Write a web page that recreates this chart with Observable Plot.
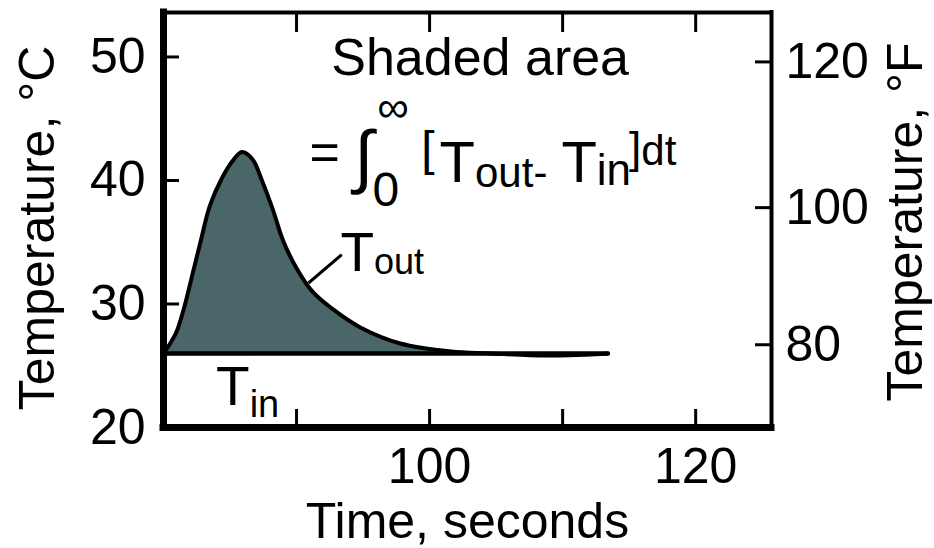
<!DOCTYPE html>
<html>
<head>
<meta charset="utf-8">
<script src="https://cdn.jsdelivr.net/npm/d3@7"></script>
<script src="https://cdn.jsdelivr.net/npm/@observablehq/plot@0.6"></script>
<style>
  html, body { margin: 0; padding: 0; background: white; }
  #chart svg { display: block; overflow: visible; }
</style>
</head>
<body>
<div id="chart"></div>
<script>
// ---- data ----
const time = [80, 80.5, 81, 81.6, 82.2, 82.8, 83.5, 84.4, 85.2, 85.9, 86.7, 87.4, 88.2, 89.0, 90.0, 91.2, 92.7, 94.8, 97.8, 101.6, 104.6, 107.5, 110.5, 113.4];
const tout = [26.0, 26.8, 27.8, 29.9, 32.5, 35.1, 38.0, 40.2, 41.6, 42.3, 41.7, 40.0, 37.7, 35.1, 32.9, 31.0, 29.6, 28.1, 26.8, 26.15, 26.0, 25.85, 25.85, 26.0];
const tinValue = 26;
const xDomain = [80, 125.7];
const yDomain = [20, 53.6];
const xTickMarks = [90, 100, 110, 120];
const xTickLabels = [100, 120];
const celsiusTicks = [20, 30, 40, 50];
const fahrenheitTicks = [80, 100, 120];
// where the °F ticks sit on the °C scale
const fahrenheitTickAtCelsius = [26.7, 37.8, 49.6];
const xLabel = "Time, seconds";
const yLabelLeft = "Temperature, °C";
const yLabelRight = "Temperature, °F";

const data = time.map((t, i) => ({t, out: tout[i], tin: tinValue}));
const fLabel = new Map(fahrenheitTickAtCelsius.map((c, i) => [c, String(fahrenheitTicks[i])]));

const W = 934, H = 548, mL = 163, mR = 163, mT = 12, mB = 121;
const plotW = W - mL - mR, plotH = H - mT - mB;
const font = "Liberation Sans, Arial, Helvetica, sans-serif";

const chart = Plot.plot({
  width: W, height: H,
  marginLeft: mL, marginRight: mR, marginTop: mT, marginBottom: mB,
  x: {domain: xDomain},
  y: {domain: yDomain},
  style: {fontFamily: font, color: "black", background: "white", overflow: "visible"},
  marks: [
    Plot.areaY(data, {x: "t", y1: "tin", y2: "out", fill: "#4b6668", curve: "catmull-rom"}),
    Plot.lineY(data, {x: "t", y: "tin", stroke: "black", strokeWidth: 4.5, strokeLinecap: "round"}),
    Plot.lineY(data, {x: "t", y: "out", stroke: "black", strokeWidth: 4, curve: "catmull-rom", strokeLinecap: "round"}),
    Plot.link([{x1: 90.9, y1: 31.7, x2: 93.4, y2: 34.0}], {x1: "x1", y1: "y1", x2: "x2", y2: "y2", stroke: "black", strokeWidth: 3}),
    // inward ticks
    Plot.ruleX(xTickMarks, {x: d => d, insetTop: plotH - 18, strokeWidth: 3}),
    Plot.ruleX(xTickMarks, {x: d => d, insetBottom: plotH - 20, strokeWidth: 3}),
    Plot.ruleY(celsiusTicks.slice(1), {y: d => d, insetRight: plotW - 16, strokeWidth: 3}),
    Plot.ruleY(fahrenheitTickAtCelsius, {y: d => d, insetLeft: plotW - 16, strokeWidth: 3}),
    // frame
    Plot.ruleY([yDomain[1]], {strokeWidth: 4, strokeLinecap: "square"}),
    Plot.ruleX([xDomain[1]], {strokeWidth: 4, strokeLinecap: "square"}),
    Plot.ruleX([xDomain[0]], {strokeWidth: 7, strokeLinecap: "square"}),
    Plot.ruleY([yDomain[0]], {strokeWidth: 7, strokeLinecap: "square"}),
    // axes (labels only)
    Plot.axisX({ticks: xTickLabels, anchor: "bottom", tickSize: 0, tickPadding: 20, fontSize: 50, label: null}),
    Plot.axisY({ticks: celsiusTicks, anchor: "left", tickSize: 0, tickPadding: 18, fontSize: 50, label: null}),
    Plot.axisY({ticks: fahrenheitTickAtCelsius, anchor: "right", tickSize: 0, tickPadding: 14, fontSize: 50, label: null,
      tickFormat: c => fLabel.get(c)}),
    // axis titles
    Plot.text([xLabel], {frameAnchor: "bottom", dy: 110, lineAnchor: "bottom", textAnchor: "middle", fontSize: 50}),
    Plot.text([yLabelLeft], {frameAnchor: "left", rotate: -90, dx: 53 - mL, dy: 8, lineAnchor: "bottom", textAnchor: "middle", fontSize: 50}),
    Plot.text([yLabelRight], {frameAnchor: "right", rotate: -90, dx: 150, dy: 2, lineAnchor: "bottom", textAnchor: "middle", fontSize: 50}),
    // annotations
    Plot.text(["Shaded area"], {x: 103.8, y: 48.5, lineAnchor: "bottom", textAnchor: "middle", fontSize: 52}),
    Plot.text(["FORMULA"], {x: 90.98, y: 39.84, lineAnchor: "bottom", textAnchor: "start", fontSize: 52}),
    Plot.text(["Tout"], {x: 93.3, y: 32.7, lineAnchor: "bottom", textAnchor: "start", fontSize: 55}),
    Plot.text(["Tin"], {x: 83.95, y: 21.8, lineAnchor: "bottom", textAnchor: "start", fontSize: 55})
  ]
});

// rich text (sub/superscripts) via tspans; "base" is the baseline offset in px
function rich(svg, key, parts) {
  d3.select(svg).selectAll("text").filter(function () { return this.textContent === key; }).each(function () {
    const el = d3.select(this);
    el.text(null);
    let prev = 0;
    for (const p of parts) {
      const ts = el.append("tspan").text(p.t);
      if (p.size) ts.attr("font-size", p.size);
      const base = p.base || 0;
      if (base !== prev) ts.attr("dy", base - prev);
      prev = base;
      if (p.dx) ts.attr("dx", p.dx);
    }
  });
}
rich(chart, "FORMULA", [
  {t: "=", size: 52, base: -12},
  {t: "\u222B", size: 70, base: -2, dx: 14},
  {t: "\u221E", size: 44, base: -60, dx: 4},
  {t: "0", size: 48, base: 24, dx: -36},
  {t: "[", size: 48, base: -17, dx: 22},
  {t: "T", size: 58, base: 0, dx: 5},
  {t: "out-", size: 42, base: 5},
  {t: "T", size: 58, base: 0, dx: 14},
  {t: "in", size: 44, base: 3},
  {t: "]", size: 44, base: -19, dx: -2},
  {t: "dt", size: 42, base: -17}
]);
rich(chart, "Tout", [
  {t: "T", size: 55, base: 0},
  {t: "out", size: 36, base: 3}
]);
rich(chart, "Tin", [
  {t: "T", size: 55, base: 0},
  {t: "in", size: 38, base: 12}
]);

document.getElementById("chart").appendChild(chart);
</script>
</body>
</html>
